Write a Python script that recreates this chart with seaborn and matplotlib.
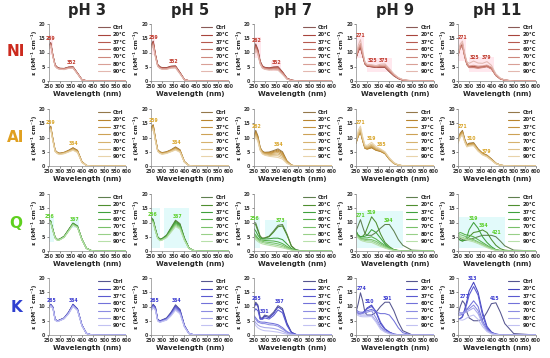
import numpy as np
import pandas as pd
import seaborn as sns
import matplotlib.pyplot as plt
from matplotlib.patches import Rectangle

# ---------------- data ----------------
wavelength = [250, 260, 270, 280, 290, 300, 320, 340, 360, 380, 400, 420, 440, 460, 500, 600]
conditions = ['Ctrl', '20°C', '37°C', '60°C', '70°C', '80°C', '90°C']
compounds = ['NI', 'AI', 'Q', 'K']
ph_labels = ['pH 3', 'pH 5', 'pH 7', 'pH 9', 'pH 11']

ni_ph3 = [
    [12.0, 13.5, 9.0, 5.6, 4.8, 4.5, 4.4, 4.9, 5.0, 2.8, 0.5, 0.1, 0, 0, 0, 0],
    [11.8, 13.3, 8.9, 5.5, 4.7, 4.4, 4.3, 4.8, 4.9, 2.7, 0.5, 0.1, 0, 0, 0, 0],
    [11.6, 13.0, 8.7, 5.4, 4.6, 4.3, 4.3, 4.7, 4.8, 2.7, 0.4, 0.1, 0, 0, 0, 0],
    [11.7, 13.1, 8.8, 5.5, 4.7, 4.4, 4.3, 4.8, 4.8, 2.7, 0.5, 0.1, 0, 0, 0, 0],
    [11.4, 12.8, 8.6, 5.3, 4.5, 4.2, 4.2, 4.6, 4.7, 2.6, 0.4, 0.1, 0, 0, 0, 0],
    [11.2, 12.6, 8.5, 5.2, 4.4, 4.2, 4.1, 4.5, 4.6, 2.5, 0.4, 0.1, 0, 0, 0, 0],
    [11.0, 12.4, 8.3, 5.1, 4.4, 4.1, 4.0, 4.4, 4.5, 2.5, 0.4, 0.1, 0, 0, 0, 0],
]
ni_ph5 = [
    [12.5, 14.0, 9.3, 5.8, 5.0, 4.7, 4.7, 5.2, 5.3, 3.0, 0.5, 0.1, 0, 0, 0, 0],
    [12.3, 13.8, 9.2, 5.7, 4.9, 4.6, 4.6, 5.1, 5.2, 2.9, 0.5, 0.1, 0, 0, 0, 0],
    [12.0, 13.5, 9.0, 5.6, 4.8, 4.5, 4.5, 5.0, 5.1, 2.9, 0.5, 0.1, 0, 0, 0, 0],
    [11.8, 13.3, 8.9, 5.5, 4.7, 4.4, 4.4, 4.9, 5.0, 2.8, 0.5, 0.1, 0, 0, 0, 0],
    [11.5, 13.0, 8.7, 5.4, 4.6, 4.3, 4.3, 4.8, 4.9, 2.7, 0.4, 0.1, 0, 0, 0, 0],
    [11.2, 12.7, 8.5, 5.2, 4.5, 4.2, 4.2, 4.6, 4.7, 2.6, 0.4, 0.1, 0, 0, 0, 0],
    [11.0, 12.4, 8.3, 5.1, 4.4, 4.1, 4.1, 4.5, 4.6, 2.5, 0.4, 0.1, 0, 0, 0, 0],
]
ni_ph7 = [
    [9.5, 13.0, 11.0, 7.0, 5.3, 4.8, 4.6, 4.9, 5.0, 3.2, 1.0, 0.3, 0.1, 0, 0, 0],
    [9.3, 12.6, 10.6, 6.8, 5.2, 4.7, 4.5, 4.8, 4.9, 3.1, 0.9, 0.3, 0.1, 0, 0, 0],
    [9.0, 12.2, 10.3, 6.6, 5.0, 4.6, 4.4, 4.6, 4.7, 3.0, 0.9, 0.3, 0.1, 0, 0, 0],
    [8.8, 12.0, 10.1, 6.5, 5.0, 4.5, 4.3, 4.5, 4.6, 2.9, 0.8, 0.2, 0.1, 0, 0, 0],
    [8.5, 11.6, 9.8, 6.3, 4.8, 4.4, 4.1, 4.3, 4.3, 2.7, 0.8, 0.2, 0.1, 0, 0, 0],
    [8.3, 11.3, 9.5, 6.1, 4.6, 4.2, 4.0, 4.1, 4.0, 2.5, 0.7, 0.2, 0.1, 0, 0, 0],
    [8.0, 11.0, 9.2, 5.9, 4.5, 4.1, 3.8, 3.9, 3.8, 2.3, 0.7, 0.2, 0.1, 0, 0, 0],
]
ni_ph9 = [
    [8.0, 10.5, 12.0, 9.0, 6.0, 5.2, 5.0, 4.8, 4.8, 4.8, 3.2, 1.8, 0.8, 0.3, 0, 0],
    [8.0, 10.4, 11.8, 8.9, 6.0, 5.2, 5.0, 4.8, 4.9, 4.9, 3.4, 1.9, 0.9, 0.3, 0, 0],
    [8.1, 10.6, 12.2, 9.1, 6.1, 5.3, 5.1, 4.9, 5.0, 5.0, 3.5, 2.0, 0.9, 0.3, 0, 0],
    [8.2, 10.8, 12.4, 9.3, 6.2, 5.4, 5.2, 5.0, 5.1, 5.1, 3.6, 2.0, 1.0, 0.4, 0, 0],
    [8.3, 11.0, 12.6, 9.4, 6.3, 5.5, 5.3, 5.0, 5.2, 5.2, 3.7, 2.1, 1.0, 0.4, 0, 0],
    [8.5, 11.5, 13.2, 9.8, 6.5, 5.6, 5.5, 5.2, 5.5, 5.6, 4.0, 2.3, 1.1, 0.4, 0.1, 0],
    [9.0, 12.5, 14.5, 10.5, 6.8, 5.8, 5.7, 5.4, 5.9, 6.0, 4.3, 2.5, 1.2, 0.5, 0.1, 0],
]
ni_ph11 = [
    [9.0, 12.0, 12.8, 9.0, 6.0, 5.0, 5.0, 4.8, 5.0, 5.3, 4.5, 2.0, 0.8, 0.3, 0, 0],
    [9.0, 12.0, 12.6, 8.8, 5.9, 4.9, 4.9, 4.7, 4.9, 5.2, 4.4, 2.0, 0.8, 0.3, 0, 0],
    [9.2, 12.3, 13.0, 9.1, 6.0, 5.0, 5.1, 4.9, 5.0, 5.4, 4.6, 2.1, 0.8, 0.3, 0, 0],
    [9.0, 11.8, 12.4, 8.7, 5.8, 4.8, 4.8, 4.6, 4.8, 5.1, 4.3, 1.9, 0.7, 0.3, 0, 0],
    [8.8, 11.5, 12.2, 8.5, 5.7, 4.7, 4.7, 4.5, 4.7, 5.0, 4.2, 1.9, 0.7, 0.3, 0, 0],
    [9.2, 12.4, 13.2, 9.2, 6.2, 5.3, 5.5, 5.2, 5.3, 5.6, 4.8, 2.2, 0.9, 0.3, 0, 0],
    [9.5, 13.0, 14.0, 9.8, 6.8, 6.2, 7.0, 6.3, 6.2, 6.8, 5.5, 2.5, 1.0, 0.4, 0, 0],
]

ai_ph3 = [
    [13.0, 14.0, 9.5, 5.5, 4.8, 4.5, 4.8, 5.5, 6.4, 5.5, 1.5, 0.2, 0, 0, 0, 0],
    [12.8, 13.8, 9.3, 5.4, 4.7, 4.4, 4.7, 5.4, 6.3, 5.4, 1.5, 0.2, 0, 0, 0, 0],
    [12.6, 13.6, 9.2, 5.3, 4.6, 4.3, 4.6, 5.3, 6.1, 5.2, 1.4, 0.2, 0, 0, 0, 0],
    [12.5, 13.5, 9.1, 5.3, 4.6, 4.3, 4.6, 5.2, 6.0, 5.1, 1.4, 0.2, 0, 0, 0, 0],
    [12.2, 13.2, 8.9, 5.2, 4.5, 4.2, 4.5, 5.1, 5.8, 5.0, 1.3, 0.2, 0, 0, 0, 0],
    [12.0, 13.0, 8.8, 5.1, 4.4, 4.1, 4.4, 5.0, 5.7, 4.9, 1.3, 0.2, 0, 0, 0, 0],
    [11.8, 12.8, 8.6, 5.0, 4.3, 4.0, 4.3, 4.9, 5.5, 4.7, 1.2, 0.2, 0, 0, 0, 0],
]
ai_ph5 = [
    [13.5, 14.5, 9.8, 5.7, 5.0, 4.7, 5.0, 5.7, 6.7, 5.7, 1.6, 0.2, 0, 0, 0, 0],
    [13.3, 14.3, 9.6, 5.6, 4.9, 4.6, 4.9, 5.6, 6.5, 5.6, 1.5, 0.2, 0, 0, 0, 0],
    [13.0, 14.0, 9.4, 5.5, 4.8, 4.5, 4.8, 5.5, 6.3, 5.4, 1.5, 0.2, 0, 0, 0, 0],
    [12.8, 13.8, 9.3, 5.4, 4.7, 4.4, 4.7, 5.4, 6.2, 5.3, 1.4, 0.2, 0, 0, 0, 0],
    [12.5, 13.5, 9.1, 5.3, 4.6, 4.3, 4.6, 5.2, 6.0, 5.1, 1.4, 0.2, 0, 0, 0, 0],
    [12.2, 13.2, 8.9, 5.2, 4.5, 4.2, 4.5, 5.1, 5.8, 5.0, 1.3, 0.2, 0, 0, 0, 0],
    [12.0, 13.0, 8.7, 5.1, 4.4, 4.1, 4.4, 5.0, 5.6, 4.8, 1.3, 0.2, 0, 0, 0, 0],
]
ai_ph7 = [
    [10.0, 12.5, 10.5, 6.5, 5.2, 4.8, 4.9, 5.4, 6.0, 5.0, 1.8, 0.3, 0, 0, 0, 0],
    [9.8, 12.0, 10.1, 6.3, 5.0, 4.6, 4.7, 5.1, 5.6, 4.7, 1.7, 0.3, 0, 0, 0, 0],
    [9.5, 11.6, 9.8, 6.1, 4.9, 4.5, 4.5, 4.8, 5.2, 4.3, 1.6, 0.3, 0, 0, 0, 0],
    [9.3, 11.3, 9.5, 6.0, 4.8, 4.4, 4.3, 4.5, 4.7, 3.9, 1.4, 0.3, 0, 0, 0, 0],
    [9.0, 11.0, 9.2, 5.8, 4.6, 4.2, 4.0, 4.1, 4.2, 3.4, 1.3, 0.2, 0, 0, 0, 0],
    [8.8, 10.6, 8.9, 5.6, 4.4, 4.0, 3.7, 3.6, 3.6, 2.9, 1.1, 0.2, 0, 0, 0, 0],
    [8.5, 10.2, 8.5, 5.4, 4.2, 3.8, 3.4, 3.2, 3.0, 2.4, 0.9, 0.2, 0, 0, 0, 0],
]
ai_ph9 = [
    [8.0, 10.5, 12.0, 9.0, 6.3, 6.0, 6.5, 5.6, 5.2, 4.4, 2.4, 0.9, 0.3, 0.1, 0, 0],
    [8.0, 10.4, 11.8, 8.8, 6.2, 5.9, 6.4, 5.5, 5.1, 4.3, 2.3, 0.9, 0.3, 0.1, 0, 0],
    [8.1, 10.6, 12.1, 9.0, 6.4, 6.1, 6.7, 5.7, 5.3, 4.5, 2.4, 0.9, 0.3, 0.1, 0, 0],
    [8.2, 10.8, 12.4, 9.2, 6.5, 6.3, 7.0, 5.9, 5.4, 4.6, 2.5, 1.0, 0.3, 0.1, 0, 0],
    [8.3, 11.0, 12.7, 9.4, 6.7, 6.5, 7.3, 6.1, 5.5, 4.7, 2.6, 1.0, 0.3, 0.1, 0, 0],
    [8.5, 11.6, 13.2, 9.8, 7.0, 6.8, 7.7, 6.4, 5.7, 4.8, 2.7, 1.1, 0.4, 0.1, 0, 0],
    [9.0, 12.5, 14.0, 10.3, 7.4, 7.2, 8.3, 6.8, 6.0, 5.0, 2.8, 1.2, 0.4, 0.1, 0, 0],
]
ai_ph11 = [
    [9.0, 11.5, 12.5, 9.5, 7.5, 8.0, 8.2, 6.0, 4.5, 3.8, 2.5, 1.0, 0.3, 0.1, 0, 0],
    [8.8, 11.3, 12.2, 9.3, 7.3, 7.8, 8.0, 5.9, 4.4, 3.7, 2.4, 1.0, 0.3, 0.1, 0, 0],
    [8.6, 11.0, 12.0, 9.1, 7.2, 7.6, 7.8, 5.7, 4.3, 3.6, 2.3, 0.9, 0.3, 0.1, 0, 0],
    [8.5, 10.8, 11.8, 9.0, 7.1, 7.5, 7.7, 5.6, 4.2, 3.5, 2.2, 0.9, 0.3, 0.1, 0, 0],
    [8.3, 10.5, 11.5, 8.8, 7.0, 7.3, 7.5, 5.5, 4.1, 3.4, 2.2, 0.9, 0.3, 0.1, 0, 0],
    [8.1, 10.3, 11.2, 8.6, 6.8, 7.1, 7.3, 5.3, 4.0, 3.3, 2.1, 0.8, 0.3, 0.1, 0, 0],
    [8.0, 10.0, 11.0, 8.4, 6.7, 7.0, 7.1, 5.2, 3.9, 3.2, 2.0, 0.8, 0.3, 0.1, 0, 0],
]

q_ph3 = [
    [11.0, 10.5, 7.5, 4.8, 4.0, 4.2, 5.2, 7.5, 9.8, 8.8, 4.2, 1.0, 0.2, 0, 0, 0],
    [10.9, 10.4, 7.4, 4.7, 4.0, 4.1, 5.1, 7.4, 9.7, 8.7, 4.1, 1.0, 0.2, 0, 0, 0],
    [10.8, 10.3, 7.3, 4.7, 3.9, 4.1, 5.0, 7.3, 9.6, 8.6, 4.1, 1.0, 0.2, 0, 0, 0],
    [10.7, 10.2, 7.2, 4.6, 3.9, 4.0, 5.0, 7.2, 9.5, 8.5, 4.0, 0.9, 0.2, 0, 0, 0],
    [10.6, 10.1, 7.1, 4.6, 3.8, 4.0, 4.9, 7.1, 9.4, 8.4, 4.0, 0.9, 0.2, 0, 0, 0],
    [10.5, 10.0, 7.0, 4.5, 3.8, 3.9, 4.8, 7.0, 9.2, 8.3, 3.9, 0.9, 0.2, 0, 0, 0],
    [10.4, 9.9, 6.9, 4.5, 3.7, 3.9, 4.8, 6.9, 9.1, 8.2, 3.9, 0.9, 0.2, 0, 0, 0],
]
q_ph5 = [
    [11.8, 11.0, 7.8, 5.0, 4.2, 4.4, 5.6, 8.2, 10.8, 9.6, 4.6, 1.1, 0.2, 0, 0, 0],
    [11.6, 10.8, 7.6, 4.9, 4.1, 4.3, 5.4, 8.0, 10.5, 9.3, 4.5, 1.1, 0.2, 0, 0, 0],
    [11.4, 10.6, 7.5, 4.8, 4.0, 4.2, 5.3, 7.7, 10.1, 9.0, 4.3, 1.0, 0.2, 0, 0, 0],
    [11.2, 10.4, 7.3, 4.7, 3.9, 4.1, 5.1, 7.5, 9.8, 8.7, 4.2, 1.0, 0.2, 0, 0, 0],
    [11.0, 10.2, 7.2, 4.6, 3.8, 4.0, 5.0, 7.2, 9.4, 8.4, 4.0, 1.0, 0.2, 0, 0, 0],
    [10.8, 10.0, 7.0, 4.5, 3.7, 3.9, 4.8, 6.9, 9.0, 8.0, 3.8, 0.9, 0.2, 0, 0, 0],
    [10.6, 9.8, 6.9, 4.4, 3.6, 3.8, 4.7, 6.6, 8.6, 7.7, 3.7, 0.9, 0.2, 0, 0, 0],
]
q_ph7 = [
    [10.2, 9.8, 7.5, 5.2, 4.5, 4.6, 5.2, 7.0, 9.0, 9.3, 6.0, 1.8, 0.4, 0.1, 0, 0],
    [9.5, 9.2, 7.0, 5.0, 4.4, 4.5, 5.0, 6.6, 8.5, 8.8, 5.6, 1.7, 0.4, 0.1, 0, 0],
    [8.0, 7.0, 5.5, 4.5, 4.2, 4.2, 4.3, 4.5, 4.5, 4.0, 2.5, 0.9, 0.3, 0.1, 0, 0],
    [6.5, 5.5, 4.5, 4.0, 3.8, 3.7, 3.6, 3.5, 3.2, 2.6, 1.6, 0.6, 0.2, 0, 0, 0],
    [6.0, 5.0, 4.2, 3.6, 3.4, 3.2, 3.0, 2.8, 2.5, 2.0, 1.2, 0.5, 0.2, 0, 0, 0],
    [5.5, 4.5, 3.8, 3.2, 3.0, 2.8, 2.5, 2.2, 1.9, 1.5, 0.9, 0.4, 0.1, 0, 0, 0],
    [5.0, 4.0, 3.3, 2.8, 2.5, 2.3, 2.0, 1.7, 1.4, 1.1, 0.7, 0.3, 0.1, 0, 0, 0],
]
q_ph9 = [
    [7.0, 9.0, 11.0, 8.5, 6.2, 5.5, 5.5, 6.5, 8.0, 9.3, 9.3, 7.0, 4.0, 2.0, 0.3, 0],
    [7.0, 5.5, 5.0, 5.2, 6.0, 8.0, 12.0, 10.0, 6.0, 3.0, 1.5, 0.5, 0.2, 0, 0, 0],
    [7.0, 5.5, 5.0, 5.0, 5.2, 5.5, 7.5, 6.5, 4.5, 2.5, 1.0, 0.4, 0.1, 0, 0, 0],
    [6.5, 5.2, 4.6, 4.5, 4.6, 4.6, 5.0, 4.2, 3.0, 2.0, 1.0, 0.4, 0.1, 0, 0, 0],
    [6.0, 5.0, 4.4, 4.2, 4.1, 4.0, 4.0, 3.4, 2.5, 1.6, 0.9, 0.3, 0.1, 0, 0, 0],
    [5.8, 4.8, 4.1, 3.9, 3.7, 3.6, 3.5, 2.8, 2.0, 1.3, 0.7, 0.3, 0.1, 0, 0, 0],
    [5.5, 4.5, 3.8, 3.5, 3.3, 3.1, 3.0, 2.3, 1.6, 1.0, 0.5, 0.2, 0.1, 0, 0, 0],
]
q_ph11 = [
    [5.5, 4.5, 4.0, 3.8, 3.8, 4.0, 4.5, 5.0, 5.5, 5.5, 5.5, 5.0, 3.5, 1.8, 0.3, 0],
    [4.5, 3.8, 3.5, 3.8, 4.3, 5.0, 6.5, 6.8, 7.4, 6.5, 4.0, 2.0, 0.8, 0.3, 0, 0],
    [4.5, 3.8, 3.5, 3.8, 5.0, 7.5, 10.0, 8.0, 5.0, 3.0, 1.5, 0.5, 0.2, 0, 0, 0],
    [6.0, 6.5, 6.2, 5.8, 5.6, 5.5, 5.0, 4.0, 3.0, 2.0, 1.0, 0.4, 0.1, 0, 0, 0],
    [5.5, 5.7, 5.5, 5.2, 4.8, 4.5, 4.0, 3.2, 2.5, 1.6, 0.9, 0.3, 0.1, 0, 0, 0],
    [5.0, 5.0, 4.8, 4.5, 4.2, 4.0, 3.6, 3.0, 2.2, 1.5, 0.8, 0.3, 0.1, 0, 0, 0],
    [5.0, 4.8, 4.5, 4.2, 3.9, 3.6, 3.2, 2.6, 1.9, 1.2, 0.6, 0.2, 0.1, 0, 0, 0],
]

k_ph3 = [
    [9.5, 10.8, 9.8, 5.5, 5.0, 5.3, 6.0, 8.0, 10.8, 9.2, 3.5, 0.6, 0.1, 0, 0, 0],
    [9.4, 10.7, 9.7, 5.4, 4.9, 5.2, 5.9, 7.9, 10.7, 9.1, 3.5, 0.6, 0.1, 0, 0, 0],
    [9.3, 10.6, 9.6, 5.4, 4.9, 5.2, 5.9, 7.8, 10.6, 9.0, 3.4, 0.6, 0.1, 0, 0, 0],
    [9.2, 10.5, 9.5, 5.3, 4.8, 5.1, 5.8, 7.7, 10.4, 8.9, 3.4, 0.6, 0.1, 0, 0, 0],
    [9.1, 10.4, 9.4, 5.3, 4.8, 5.1, 5.8, 7.6, 10.3, 8.8, 3.3, 0.6, 0.1, 0, 0, 0],
    [9.0, 10.3, 9.3, 5.2, 4.7, 5.0, 5.7, 7.5, 10.2, 8.7, 3.3, 0.5, 0.1, 0, 0, 0],
    [8.9, 10.2, 9.2, 5.2, 4.7, 5.0, 5.7, 7.4, 10.0, 8.6, 3.2, 0.5, 0.1, 0, 0, 0],
]
k_ph5 = [
    [9.5, 10.8, 9.8, 5.5, 5.0, 5.3, 6.0, 8.0, 10.6, 9.0, 3.4, 0.6, 0.1, 0, 0, 0],
    [9.3, 10.6, 9.6, 5.4, 4.9, 5.2, 5.8, 7.7, 10.2, 8.7, 3.3, 0.6, 0.1, 0, 0, 0],
    [9.1, 10.4, 9.4, 5.3, 4.8, 5.1, 5.7, 7.5, 9.9, 8.4, 3.2, 0.6, 0.1, 0, 0, 0],
    [9.0, 10.2, 9.2, 5.2, 4.7, 5.0, 5.6, 7.3, 9.6, 8.2, 3.1, 0.5, 0.1, 0, 0, 0],
    [8.8, 10.0, 9.0, 5.1, 4.6, 4.9, 5.4, 7.1, 9.3, 7.9, 3.0, 0.5, 0.1, 0, 0, 0],
    [8.6, 9.8, 8.8, 5.0, 4.5, 4.8, 5.3, 6.9, 9.0, 7.6, 2.9, 0.5, 0.1, 0, 0, 0],
    [8.4, 9.6, 8.6, 4.9, 4.4, 4.7, 5.2, 6.7, 8.7, 7.4, 2.8, 0.5, 0.1, 0, 0, 0],
]
k_ph7 = [
    [9.5, 11.5, 10.5, 6.0, 6.0, 7.0, 6.5, 8.0, 10.3, 9.3, 4.2, 1.0, 0.2, 0, 0, 0],
    [9.0, 11.0, 10.0, 5.7, 5.7, 6.6, 6.1, 7.5, 9.8, 8.8, 3.9, 0.9, 0.2, 0, 0, 0],
    [8.0, 9.2, 8.5, 5.5, 5.5, 6.0, 5.6, 6.8, 8.8, 7.8, 3.4, 0.8, 0.2, 0, 0, 0],
    [7.0, 6.0, 5.0, 4.6, 4.5, 4.5, 4.2, 4.0, 3.6, 2.6, 1.2, 0.4, 0.1, 0, 0, 0],
    [6.5, 5.5, 4.5, 4.2, 4.0, 4.0, 3.6, 3.5, 3.1, 2.1, 1.0, 0.3, 0.1, 0, 0, 0],
    [5.5, 4.3, 3.5, 3.0, 2.8, 2.6, 2.5, 2.3, 1.9, 1.3, 0.6, 0.2, 0, 0, 0, 0],
    [5.0, 3.3, 2.5, 2.0, 1.7, 1.5, 1.4, 1.2, 1.0, 0.6, 0.3, 0.1, 0, 0, 0, 0],
]
k_ph9 = [
    [8.0, 11.0, 14.8, 12.0, 8.0, 7.0, 7.0, 8.0, 10.0, 11.5, 11.5, 8.5, 4.5, 1.5, 0.1, 0],
    [8.0, 7.5, 7.5, 7.8, 8.5, 9.5, 10.5, 8.0, 4.0, 2.0, 1.0, 0.3, 0.1, 0, 0, 0],
    [8.2, 7.6, 7.4, 7.6, 8.2, 9.2, 10.0, 8.3, 4.5, 2.2, 1.0, 0.3, 0.1, 0, 0, 0],
    [9.0, 8.2, 8.0, 8.0, 8.2, 8.5, 9.0, 8.0, 7.5, 7.5, 7.0, 5.0, 2.5, 0.8, 0, 0],
    [8.5, 7.8, 7.5, 7.6, 7.8, 8.0, 8.5, 6.0, 3.0, 1.5, 0.7, 0.2, 0, 0, 0, 0],
    [8.0, 7.3, 7.0, 7.0, 7.0, 7.0, 7.0, 5.0, 2.5, 1.2, 0.5, 0.2, 0, 0, 0, 0],
    [7.5, 6.8, 6.5, 6.4, 6.4, 6.4, 6.5, 4.5, 2.0, 1.0, 0.4, 0.1, 0, 0, 0, 0],
]
k_ph11 = [
    [7.0, 10.0, 12.0, 11.0, 8.0, 6.0, 5.0, 5.0, 5.5, 8.0, 11.0, 11.3, 8.0, 4.0, 0.5, 0],
    [5.5, 5.8, 6.5, 9.0, 12.0, 15.5, 18.5, 15.0, 8.0, 3.0, 1.0, 0.3, 0.1, 0, 0, 0],
    [5.5, 5.7, 6.3, 8.5, 11.0, 14.0, 17.0, 14.0, 7.0, 2.5, 0.8, 0.3, 0.1, 0, 0, 0],
    [7.0, 7.0, 7.2, 8.0, 9.0, 10.0, 12.0, 10.0, 5.0, 2.0, 0.7, 0.2, 0, 0, 0, 0],
    [8.0, 7.8, 7.8, 8.2, 8.8, 9.2, 10.5, 8.5, 4.2, 1.7, 0.6, 0.2, 0, 0, 0, 0],
    [8.0, 7.6, 7.5, 7.8, 8.2, 8.6, 9.5, 7.5, 4.0, 1.5, 0.5, 0.2, 0, 0, 0, 0],
    [5.5, 5.3, 5.2, 5.5, 6.0, 6.5, 7.0, 5.5, 3.0, 1.2, 0.4, 0.1, 0, 0, 0, 0],
]

spectra = [
    [ni_ph3, ni_ph5, ni_ph7, ni_ph9, ni_ph11],
    [ai_ph3, ai_ph5, ai_ph7, ai_ph9, ai_ph11],
    [q_ph3, q_ph5, q_ph7, q_ph9, q_ph11],
    [k_ph3, k_ph5, k_ph7, k_ph9, k_ph11],
]

# labelled maxima (wavelength, epsilon)
peaks = [
    [[(259, 13.5), (352, 5.0)], [(259, 14.0), (352, 5.3)], [(262, 13.0), (352, 5.0)],
     [(271, 14.5), (325, 5.7), (373, 5.9)], [(271, 14.0), (325, 7.0), (379, 6.8)]],
    [[(259, 14.0), (364, 6.4)], [(259, 14.5), (364, 6.7)], [(262, 12.5), (364, 6.0)],
     [(271, 14.0), (319, 8.3), (365, 6.0)], [(271, 12.5), (310, 8.2), (379, 3.8)]],
    [[(256, 10.8), (367, 9.8)], [(256, 11.5), (367, 10.8)], [(256, 10.0), (373, 9.3)],
     [(271, 11.0), (319, 12.0), (394, 9.3)], [(319, 10.0), (364, 7.4), (421, 5.0)]],
    [[(265, 10.8), (364, 10.8)], [(265, 10.8), (364, 10.6)], [(265, 11.5), (301, 7.0), (367, 10.3)],
     [(274, 14.8), (310, 10.5), (391, 11.5)], [(277, 12.0), (313, 18.5), (415, 11.3)]],
]

# ---------------- styles ----------------
palettes = [
    ['#8a5a56', '#a8443c', '#b65a4e', '#c26e62', '#cd877c', '#d9a096', '#e3b8b0'],
    ['#94784a', '#b9852e', '#c49340', '#cda255', '#d6b26e', '#dfc28b', '#e8d3aa'],
    ['#5f7f4f', '#4f8f30', '#3fa03c', '#58b04a', '#78c068', '#98d088', '#b8e0aa'],
    ['#55558f', '#4444c0', '#5a5ad0', '#7272da', '#8c8ce2', '#a6a6ea', '#c2c2f2'],
]
row_colors = ['#cc2a1e', '#e0a020', '#5fd01e', '#2f3fd0']
peak_colors = ['#c0392b', '#d9a52a', '#5ccf2a', '#3a3ad0']
shade_colors = ['#ffb6c8', None, '#9ff0f0', None]
# shaded regions (x0, x1, y0, y1) in data units
shades = {
    (0, 0): [(250, 268, 9, 16)], (0, 1): [(250, 268, 9, 16)],
    (0, 2): [(250, 285, 8, 15.5), (330, 375, 3.5, 7)],
    (0, 3): [(250, 285, 8, 16), (300, 410, 3, 8)],
    (0, 4): [(250, 285, 7, 15.5), (300, 410, 3, 8.5)],
    (2, 0): [(250, 275, 3, 12), (350, 385, 8, 11.5)],
    (2, 1): [(250, 290, 1, 15), (310, 420, 1, 15)],
    (2, 2): [(250, 280, 1, 12), (300, 400, 2, 11)],
    (2, 3): [(255, 460, 1, 14)], (2, 4): [(255, 460, 1, 12)],
}

sns.set_style('ticks')
plt.rcParams['font.family'] = ['DejaVu Sans']

W, H = 550, 358
fig = plt.figure(figsize=(5.5, 3.58), dpi=100)
col_left = [48.5, 151, 253.5, 356, 458]
row_top = [24, 109, 194, 278]
ax_w, ax_h = 78, 57
row_label_y = [52, 138, 223, 308]

for r in range(4):
    for c in range(5):
        left, top = col_left[c], row_top[r]
        ax = fig.add_axes([left / W, 1 - (top + ax_h) / H, ax_w / W, ax_h / H])
        curves = spectra[r][c]
        df = pd.DataFrame({
            'wavelength': wavelength * len(conditions),
            'eps': np.concatenate(curves),
            'cond': np.repeat(conditions, len(wavelength)),
        })
        if shade_colors[r] is not None:
            for (x0, x1, y0, y1) in shades.get((r, c), []):
                ax.add_patch(Rectangle((x0, y0), x1 - x0, y1 - y0, facecolor=shade_colors[r],
                                       alpha=0.3, edgecolor='none', zorder=0))
        sns.lineplot(data=df, x='wavelength', y='eps', hue='cond', hue_order=conditions,
                     palette=palettes[r], linewidth=0.75, ax=ax, legend=True)
        handles, labels = ax.get_legend_handles_labels()
        leg = ax.legend(handles, labels, loc='upper right', bbox_to_anchor=(1.0, 0.98),
                        frameon=False, fontsize=3.7, handlelength=2.2, handletextpad=0.6,
                        labelspacing=0.45, borderpad=0, borderaxespad=0)
        for t in leg.get_texts():
            t.set_fontweight('bold')
        for h in leg.get_lines():
            h.set_linewidth(0.8)
        for (wl, val) in peaks[r][c]:
            ax.text(wl, val + 0.5, str(wl), color=peak_colors[r], fontsize=3.3,
                    fontweight='bold', ha='center', va='bottom')
        ax.set_xlim(250, 600)
        ax.set_ylim(0, 20)
        ax.set_xticks(range(250, 601, 50))
        ax.set_yticks(range(0, 21, 5))
        ax.tick_params(labelsize=3.4, length=1.2, width=0.4, pad=1, colors='#333333')
        for lab in ax.get_xticklabels() + ax.get_yticklabels():
            lab.set_fontweight('bold')
        for s in ['top', 'right']:
            ax.spines[s].set_visible(False)
        for s in ['left', 'bottom']:
            ax.spines[s].set_linewidth(0.5)
            ax.spines[s].set_color('#888888')
        ax.set_xlabel('Wavelength (nm)', fontsize=5, fontweight='bold', labelpad=1.5)
        ax.set_ylabel('ε (kM⁻¹ cm⁻¹)', fontsize=4.3, fontweight='bold', labelpad=1.5)

for c in range(5):
    fig.text((col_left[c] + ax_w / 2) / W, 1 - 11 / H, ph_labels[c], ha='center', va='center',
             fontsize=10.5, fontweight='bold')
for r in range(4):
    fig.text(16 / W, 1 - row_label_y[r] / H, compounds[r], ha='center', va='center',
             fontsize=11, fontweight='bold', color=row_colors[r])

fig.savefig('out.png', dpi=100)
